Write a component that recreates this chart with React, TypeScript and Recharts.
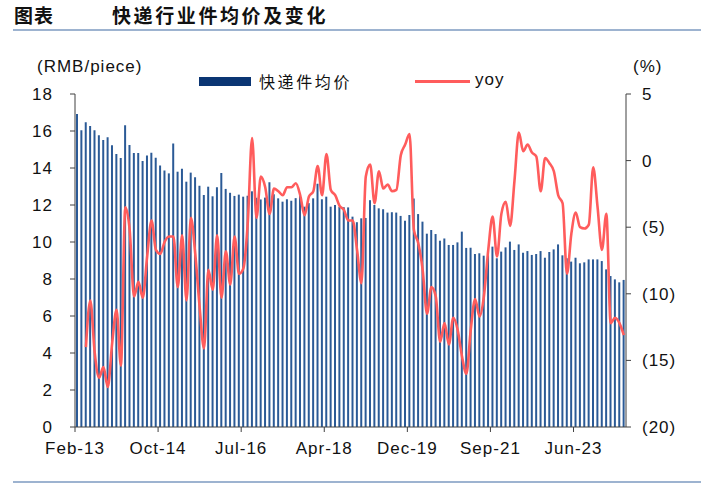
import React from "react";
import { Bar, ComposedChart, Line, XAxis, YAxis } from "recharts";

// monthly series, Jan is folded into Feb in the source data
const YEARS = [13, 14, 15, 16, 17, 18, 19, 20, 21, 22, 23, 24];
const MONTH_NAMES = ["Feb", "Mar", "Apr", "May", "Jun", "Jul", "Aug", "Sep", "Oct", "Nov", "Dec"];
const LAST_MONTH = "Jun-24";

const MONTHS: string[] = [];
for (const y of YEARS) {
  for (const m of MONTH_NAMES) {
    const label = `${m}-${y}`;
    if (MONTHS.length && MONTHS[MONTHS.length - 1] === LAST_MONTH) break;
    MONTHS.push(label);
  }
}

// 快递件均价 (RMB/piece)
const PRICE = [
  16.92, 16.04, 16.47, 16.27, 16.04, 15.77, 15.51, 15.66, 15.23, 14.76, 14.54,
  16.31, 15.24, 14.81, 14.81, 14.38, 14.68, 14.83, 14.56, 14.14, 13.86, 13.71,
  15.33, 13.8, 13.96, 13.26, 13.75, 13.5, 13.04, 12.54, 12.99, 12.47, 12.96,
  13.73, 12.87, 12.66, 12.49, 12.56, 12.45, 12.5, 12.74, 12.39, 12.3, 12.4,
  13.23, 12.58, 12.36, 12.18, 12.31, 12.23, 12.37, 12.5, 11.91, 12.1, 12.36,
  13.15, 12.31, 12.45, 11.91, 12.0, 11.9, 11.88, 11.87, 11.37, 11.07, 11.28,
  11.3, 12.26, 12.0, 11.82, 11.77, 11.59, 11.61, 11.59, 11.41, 11.15, 11.46,
  12.35, 11.51, 11.1, 10.45, 10.65, 10.43, 10.07, 10.19, 9.84, 9.84, 9.98,
  10.56, 9.68, 9.69, 9.35, 9.39, 9.26, 9.3, 9.75, 9.12, 9.48, 9.71, 10.02,
  9.57, 9.87, 9.42, 9.51, 9.3, 9.35, 9.51, 9.15, 9.46, 9.6, 9.87, 9.28, 9.12,
  8.94, 9.15, 8.85, 8.9, 9.06, 9.06, 9.06, 8.97, 8.52, 8.16, 7.98, 7.82, 7.95,
];

// yoy (%)
const YOY = [
  null, null, -14.0, -10.5, -14.4, -16.3, -15.5, -17.0, -13.7, -11.2, -15.4,
  -3.5, -5.2, -10.2, -9.1, -10.3, -7.2, -4.5, -6.7, -7.0, -6.1, -5.7,
  -5.7, -9.5, -5.6, -10.5, -4.3, -7.0, -11.0, -14.1, -8.2, -9.7, -5.6,
  -10.3, -6.8, -9.3, -5.7, -8.5, -8.1, -4.7, 1.7, -4.3, -1.2, -2.0,
  -4.0, -2.1, -2.3, -2.6, -2.0, -2.0, -1.7, -2.6, -4.1, -2.7, -2.3,
  -0.4, -2.6, 0.5, -2.2, -2.6, -3.4, -3.7, -4.5, -4.5, -6.7, -9.2,
  -1.2, -0.3, -3.2, -0.8, -2.1, -1.8, -2.3, -2.2, 0.4, 1.2, 2.0,
  -5.2, -6.2, -8.2, -11.5, -9.5, -10.2, -13.6, -12.2, -13.8, -11.8, -12.7,
  -14.7, -16.0, -12.7, -10.4, -11.7, -10.2, -6.7, -4.2, -7.2, -4.0, -3.1, -4.9,
  -1.5, 2.1, 0.7, 1.2, 0.6, 0.3, -2.3, 0.2, -0.2, -0.8, -2.6, -3.2, -8.5,
  -5.5, -3.9, -5.0, -5.1, -4.8, -0.5, -3.5, -6.7, -4.0, -12.2, -11.8, -12.2, -13.1,
];

const TICK_LABELS = ["Feb-13", "Oct-14", "Jul-16", "Apr-18", "Dec-19", "Sep-21", "Jun-23"];
const LEFT_TICKS = [0, 2, 4, 6, 8, 10, 12, 14, 16, 18];
const RIGHT_TICKS = [-20, -15, -10, -5, 0, 5];

const data = MONTHS.map((m, i) => ({
  month: m,
  pos: i + 0.5,
  price: PRICE[i],
  yoy: YOY[i],
}));

const xTicks = TICK_LABELS.map((l) => MONTHS.indexOf(l));

const AXIS_COLOR = "#404040";
const LATIN = "'Liberation Sans', Arial, sans-serif";
const CJK = "'Noto Sans CJK SC', sans-serif";
const BAR_COLOR = "#2b5a96";
const LINE_COLOR = "#ff5c5c";

const tickStyle = {
  fill: "#111",
  fontSize: 17,
  fontFamily: LATIN,
  letterSpacing: 1,
};

const fmtPct = (v: number) => (v < 0 ? `(${Math.abs(v)})` : `${v}`);

export default function App() {
  return (
    <div
      style={{
        position: "absolute",
        left: 0,
        top: 0,
        width: 711,
        height: 489,
        background: "#fff",
        overflow: "hidden",
      }}
    >
      <div
        style={{
          position: "absolute",
          left: 14,
          top: 3,
          fontFamily: CJK,
          fontWeight: 700,
          fontSize: 19,
          lineHeight: "24px",
          color: "#111",
          whiteSpace: "nowrap",
        }}
      >
        <span style={{ letterSpacing: 1 }}>图表</span>
        <span style={{ position: "absolute", left: 98, letterSpacing: 2.6 }}>快递行业件均价及变化</span>
      </div>
      <div style={{ position: "absolute", left: 13, right: 10, top: 29, height: 2, background: "#9db3d0" }} />
      <div style={{ position: "absolute", left: 13, right: 10, top: 481, height: 2, background: "#9db3d0" }} />

      <div style={{ position: "absolute", left: 37, top: 57, fontFamily: LATIN, fontSize: 17, letterSpacing: 1, lineHeight: "20px", color: "#111" }}>
        (RMB/piece)
      </div>
      <div style={{ position: "absolute", left: 633, top: 57, fontFamily: LATIN, fontSize: 17, letterSpacing: 1, lineHeight: "20px", color: "#111" }}>
        (%)
      </div>

      {/* legend */}
      <div style={{ position: "absolute", left: 199, top: 77, width: 52, height: 9, background: "#0b3573" }} />
      <div style={{ position: "absolute", left: 259, top: 70, fontFamily: CJK, fontSize: 16, letterSpacing: 2.6, lineHeight: "22px", color: "#111" }}>
        快递件均价
      </div>
      <div style={{ position: "absolute", left: 415, top: 80, width: 55, height: 3, background: LINE_COLOR }} />
      <div style={{ position: "absolute", left: 475, top: 70, fontFamily: LATIN, fontSize: 17, letterSpacing: 1, lineHeight: "20px", color: "#111" }}>
        yoy
      </div>

      <ComposedChart
        width={711}
        height={489}
        data={data}
        margin={{ top: 94, right: 0, bottom: 0, left: 0 }}
        style={{ position: "absolute", left: 0, top: 0 }}
      >
        <XAxis
          xAxisId="x"
          type="number"
          dataKey="pos"
          domain={[0, MONTHS.length]}
          ticks={xTicks}
          interval={0}
          tickFormatter={(v: number) => MONTHS[v]}
          height={62}
          tickSize={5}
          tickMargin={10}
          stroke={AXIS_COLOR}
          tick={tickStyle}
          allowDataOverflow
        />
        <YAxis
          yAxisId="left"
          orientation="left"
          domain={[0, 18]}
          ticks={LEFT_TICKS}
          interval={0}
          width={75}
          tickSize={5}
          tickMargin={17}
          stroke={AXIS_COLOR}
          tick={tickStyle}
        />
        <YAxis
          yAxisId="right"
          orientation="right"
          domain={[-20, 5]}
          ticks={RIGHT_TICKS}
          interval={0}
          width={85}
          tickSize={5}
          tickMargin={11}
          stroke={AXIS_COLOR}
          tick={{ ...tickStyle, textAnchor: "start" }}
          tickFormatter={fmtPct}
        />
        <Bar
          xAxisId="x"
          yAxisId="left"
          dataKey="price"
          fill={BAR_COLOR}
          barSize={2}
          isAnimationActive={false}
        />
        <Line
          xAxisId="x"
          yAxisId="right"
          dataKey="yoy"
          type="monotone"
          stroke={LINE_COLOR}
          strokeWidth={2.6}
          dot={false}
          activeDot={false}
          isAnimationActive={false}
        />
      </ComposedChart>
    </div>
  );
}
